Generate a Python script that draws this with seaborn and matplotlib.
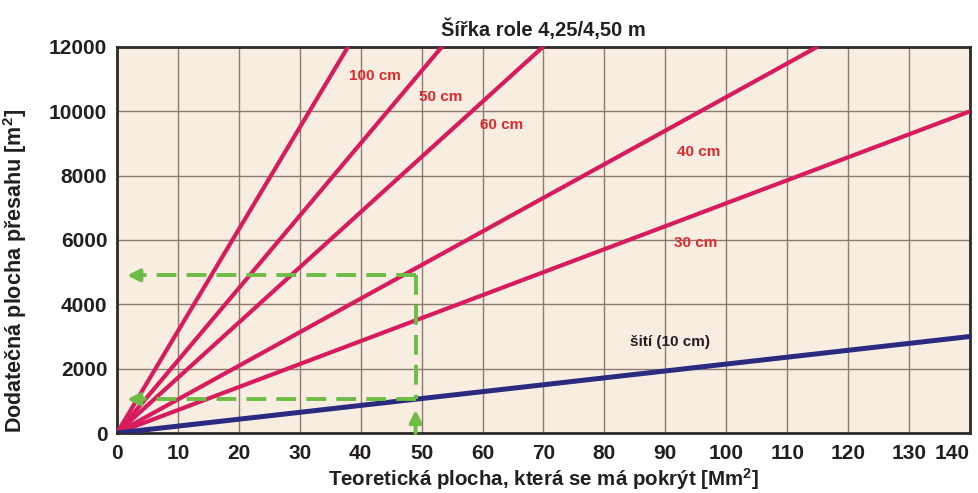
import matplotlib
matplotlib.use('Agg')
import matplotlib.pyplot as plt
import seaborn as sns
import pandas as pd

sns.set_style('white')
plt.rcParams['font.family'] = ['Liberation Sans', 'DejaVu Sans']
plt.rcParams['font.weight'] = 'bold'
plt.rcParams['axes.titleweight'] = 'bold'
plt.rcParams['axes.labelweight'] = 'bold'
plt.rcParams['mathtext.fontset'] = 'custom'
plt.rcParams['mathtext.rm'] = 'Liberation Sans:bold'
plt.rcParams['mathtext.it'] = 'Liberation Sans:bold'
plt.rcParams['mathtext.bf'] = 'Liberation Sans:bold'

# overlap widths, each line runs from the origin to where it leaves the chart
series = ['100 cm', '50 cm', '60 cm', '40 cm', '30 cm', 'šití (10 cm)']
x_end = [37.9, 53.3, 69.9, 114.9, 140, 140]
y_end = [12000, 12000, 12000, 12000, 10000, 3000]
# where the labels sit
label_x = [42.3, 53.2, 63.2, 95.4, 94.9, 90.8]
label_y = [11100, 10445, 9575, 8736, 5907, 2830]

# green reading example
guide_x = 49
guide_y = [4900, 1050]

df = pd.DataFrame({'series': series + series,
                   'x': [0] * len(series) + x_end,
                   'y': [0] * len(series) + y_end})

red = '#d81b5c'
blue = '#2a2b80'
green = '#6cbc45'
pal = {s: red for s in series}
pal['šití (10 cm)'] = blue

fig = plt.figure(figsize=(9.79, 4.93), dpi=100)
ax = fig.add_axes([0.1195, 0.1217, 0.8713, 0.783])
ax.set_facecolor('#f8ede1')

sns.lineplot(data=df, x='x', y='y', hue='series', hue_order=series, palette=pal,
             legend=False, ax=ax, linewidth=3, zorder=3)
ax.lines[-1].set_linewidth(3.6)

# dashed guides with arrowheads
ax.plot([guide_x, guide_x], guide_y, color=green, lw=2.8, ls=(0, (5.1, 2.6)), zorder=4)
for gy in guide_y:
    ax.plot([guide_x, 3.5], [gy, gy], color=green, lw=2.8, ls=(0, (5.1, 2.6)), zorder=4)
    ax.annotate('', xy=(1.2, gy), xytext=(4.5, gy),
                arrowprops=dict(arrowstyle='-|>', color=green, lw=2.8, mutation_scale=18), zorder=4)
ax.annotate('', xy=(guide_x, 720), xytext=(guide_x, 0),
            arrowprops=dict(arrowstyle='-|>', color=green, lw=2.8, mutation_scale=18,
                            shrinkA=0, shrinkB=0), zorder=4)

for s, lx, ly in zip(series, label_x, label_y):
    col = '#231f20' if s.startswith('šití') else '#e0282c'
    ax.text(lx, ly, s, color=col, fontsize=11, ha='center', va='center', zorder=5)

ax.set_xlim(0, 140)
ax.set_ylim(0, 12000)
ax.set_xticks(range(0, 141, 10))
ax.set_yticks(range(0, 12001, 2000))
ax.grid(True, color='#8c7b70', lw=1, zorder=1)
ax.set_axisbelow(True)
ax.tick_params(length=0, labelsize=15, colors='#231f20')
ax.tick_params(axis='x', pad=8)
ax.tick_params(axis='y', pad=7)
ax.get_xticklabels()[-1].set_horizontalalignment('right')
for sp in ax.spines.values():
    sp.set_visible(True)
    sp.set_color('#2b2b2b')
    sp.set_linewidth(2)

ax.set_title('Šířka role 4,25/4,50 m', fontsize=14.5, color='#231f20', pad=8)
ax.set_xlabel('Teoretická plocha, která se má pokrýt [Mm$^2$]', fontsize=14.8, color='#231f20', labelpad=2)
ax.set_ylabel('Dodatečná plocha přesahu [m$^2$]', fontsize=15.5, color='#231f20')
ax.yaxis.set_label_coords(-0.103, 0.42)

fig.savefig('out.png', dpi=100)
